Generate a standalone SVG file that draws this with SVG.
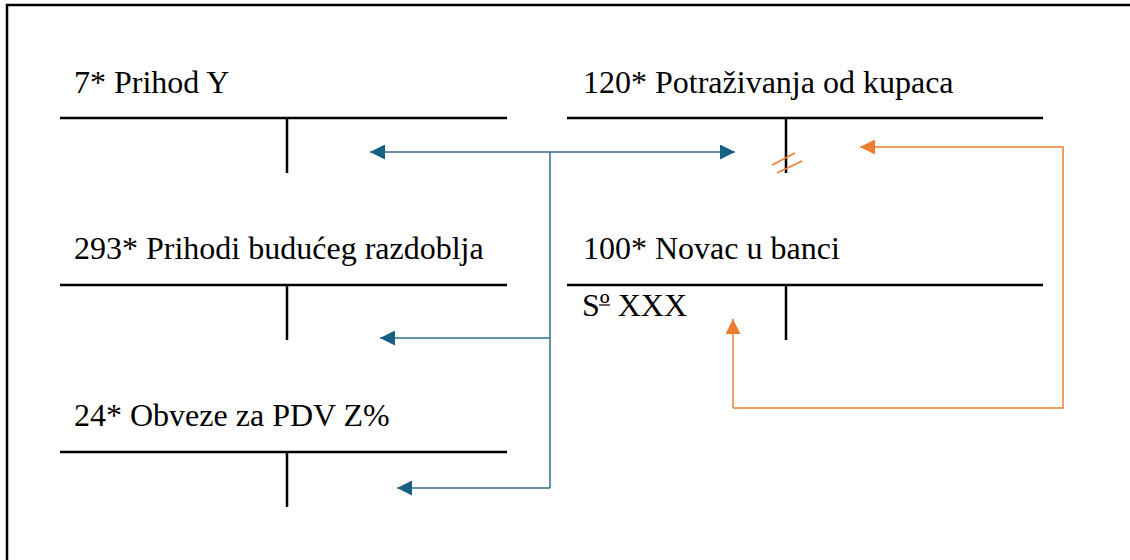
<svg xmlns="http://www.w3.org/2000/svg" width="1130" height="560" viewBox="0 0 1130 560">
<defs>
<style>
.lbl{font-family:"Liberation Serif","Times New Roman",serif;font-size:32px;fill:#000}
.tl{stroke:#000;stroke-width:2.5;fill:none}
.blue{stroke:#2e6f8e;stroke-width:1.5;fill:none}
.orange{stroke:#ed7d31;stroke-width:1.5;fill:none}
</style>
<marker id="ab" viewBox="0 0 10 10" refX="10" refY="5" markerWidth="15" markerHeight="15" markerUnits="userSpaceOnUse" orient="auto">
<path d="M0,0 L10,5 L0,10 Z" fill="#17607f"/>
</marker>
<marker id="ao" viewBox="0 0 10 10" refX="10" refY="5" markerWidth="15" markerHeight="15" markerUnits="userSpaceOnUse" orient="auto">
<path d="M0,0 L10,5 L0,10 Z" fill="#ed7d31"/>
</marker>
</defs>
<rect width="1130" height="560" fill="#fff"/>
<path d="M7,560 V5 H1130" stroke="#000" stroke-width="2.5" fill="none"/>

<g id="acc-7">
<text class="lbl" x="74" y="93">7* Prihod Y</text>
<path class="tl" d="M60,118 H507 M287,118 V173"/>
</g>
<g id="acc-120">
<text class="lbl" x="583" y="93">120* Potraživanja od kupaca</text>
<path class="tl" d="M567,118 H1043 M786,118 V173"/>
</g>
<g id="acc-293">
<text class="lbl" x="74" y="259">293* Prihodi budućeg razdoblja</text>
<path class="tl" d="M60,285 H507 M287,285 V340"/>
</g>
<g id="acc-100">
<text class="lbl" x="583" y="259">100* Novac u banci</text>
<path class="tl" d="M567,285 H1043 M786,285 V340"/>
<text class="lbl" x="582" y="316">Sº XXX</text>
<path d="M599,305 H610" stroke="#000" stroke-width="1.2"/>
</g>
<g id="acc-24">
<text class="lbl" x="74" y="426">24* Obveze za PDV Z%</text>
<path class="tl" d="M60,452 H507 M287,452 V507"/>
</g>

<g id="connectors">
<path class="blue" d="M550,152 H370" marker-end="url(#ab)"/>
<path class="blue" d="M550,152 H735" marker-end="url(#ab)"/>
<path class="blue" d="M550,152 V488"/>
<path class="blue" d="M550,338 H380" marker-end="url(#ab)"/>
<path class="blue" d="M550,488 H397" marker-end="url(#ab)"/>
<path class="orange" d="M733,408 H1063 V147 H860" marker-end="url(#ao)"/>
<path class="orange" d="M733,408 V319" marker-end="url(#ao)"/>
<path class="orange" d="M772,165 L795,153 M777,173 L802,161"/>
</g>
</svg>
